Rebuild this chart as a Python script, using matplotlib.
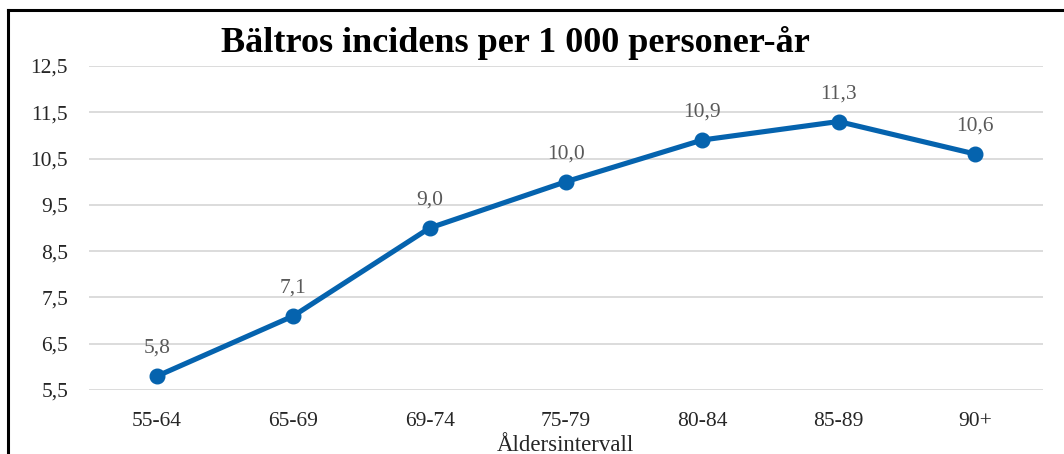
#!/usr/bin/env python3
"""Bältros incidens per 1 000 personer-år, line chart."""

import matplotlib
matplotlib.use("Agg")
import matplotlib.pyplot as plt
from matplotlib.lines import Line2D

age_groups = ["55-64", "65-69", "69-74", "75-79", "80-84", "85-89", "90+"]
incidence = [5.8, 7.1, 9.0, 10.0, 10.9, 11.3, 10.6]
y_ticks = [5.5, 6.5, 7.5, 8.5, 9.5, 10.5, 11.5, 12.5]

BLUE = "#0563AE"
plt.rcParams["font.family"] = ["Liberation Serif", "DejaVu Serif"]

fig = plt.figure(figsize=(10.64, 4.54), dpi=100)
ax = fig.add_axes([0.0836, 0.141, 0.8966, 0.7137])

x = range(len(age_groups))
ax.plot(x, incidence, color=BLUE, lw=3.7, marker="o", ms=10.5,
        solid_capstyle="round", zorder=3)

for xi, v in zip(x, incidence):
    ax.annotate(f"{v:.1f}".replace(".", ","), (xi, v), xytext=(0, 13),
                textcoords="offset points", ha="center", va="bottom",
                fontsize=15.5, color="#595959")

ax.set_xlim(-0.5, len(age_groups) - 0.5)
ax.set_ylim(5.5, 12.5)
ax.set_yticks(y_ticks)
ax.set_yticklabels([f"{t:.1f}".replace(".", ",") for t in y_ticks])
ax.set_xticks(list(x))
ax.set_xticklabels(age_groups)
ax.tick_params(length=0, labelsize=15.5, colors="#262626", pad=15)
ax.tick_params(axis="x", pad=16)
ax.grid(axis="y", color="#d9d9d9", lw=1.3)
ax.set_axisbelow(True)
for s in ax.spines.values():
    s.set_visible(False)

ax.set_xlabel("Åldersintervall", fontsize=16.5, color="#262626", labelpad=2.5)

fig.text(515 / 1064, 1 - 43 / 454, "Bältros incidens per 1 000 personer-år",
         ha="center", va="center", fontsize=26, fontweight="bold")

# frame edges (top and left visible in the crop)
fig.add_artist(Line2D([8 / 1064, 8 / 1064], [0, 1 - 10 / 454], color="black", lw=2.2,
                      transform=fig.transFigure))
fig.add_artist(Line2D([8 / 1064, 1], [1 - 10 / 454, 1 - 10 / 454], color="black", lw=2.2,
                      transform=fig.transFigure))

fig.savefig("out.png", dpi=100)
